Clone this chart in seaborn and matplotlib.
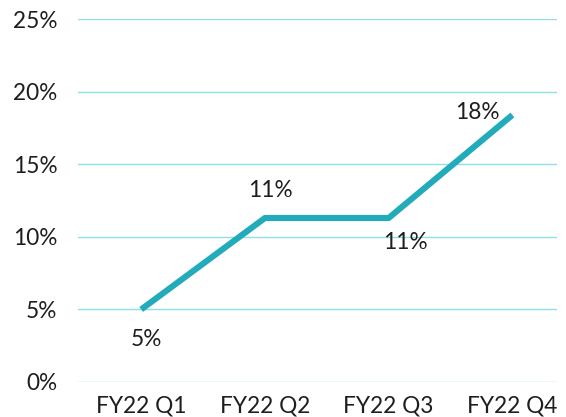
import matplotlib
matplotlib.use("Agg")
import matplotlib.pyplot as plt
import seaborn as sns
import pandas as pd

quarters = ["FY22 Q1", "FY22 Q2", "FY22 Q3", "FY22 Q4"]
margin = [5.0, 11.3, 11.3, 18.4]
point_labels = ["5%", "11%", "11%", "18%"]
y_ticks = [0, 5, 10, 15, 20, 25]
y_tick_labels = ["0%", "5%", "10%", "15%", "20%", "25%"]

df = pd.DataFrame({"quarter": quarters, "margin": margin})

sns.set_theme(style="white")
plt.rcParams["font.family"] = ["Lato", "DejaVu Sans"]

fig = plt.figure(figsize=(5.66, 4.17), dpi=100)
ax = fig.add_axes([0.138, 0.084, 0.846, 0.870])

line_color = "#22abbb"
grid_color = "#8fdfe5"
text_color = "#1e1e1e"
fs = 16.3

sns.lineplot(data=df, x="quarter", y="margin", ax=ax, color=line_color,
             linewidth=4.4, sort=False, solid_capstyle="butt",
             solid_joinstyle="round")

ax.set_ylim(0, 25)
ax.set_xlim(-0.51, 3.36)
ax.set_yticks(y_ticks)
ax.set_yticklabels(y_tick_labels)
ax.set_xticks(range(len(quarters)))
ax.set_xticklabels(quarters)
ax.set_xlabel("")
ax.set_ylabel("")

for y in y_ticks:
    ax.axhline(y, color=grid_color, linewidth=1.0, zorder=0)

for s in ax.spines.values():
    s.set_visible(False)

ax.tick_params(axis="y", length=0, pad=15, labelsize=fs, labelcolor=text_color)
ax.tick_params(axis="x", length=0, pad=10, labelsize=fs, labelcolor=text_color)

offsets = [(3.6, -21.6), (3.6, 20), (12, -18), (-25, 2)]
for i, (lab, off) in enumerate(zip(point_labels, offsets)):
    ax.annotate(lab, (i, margin[i]), xytext=off, textcoords="offset points",
                ha="center", va="center", fontsize=fs, color=text_color)

fig.savefig("out.png", dpi=100)
